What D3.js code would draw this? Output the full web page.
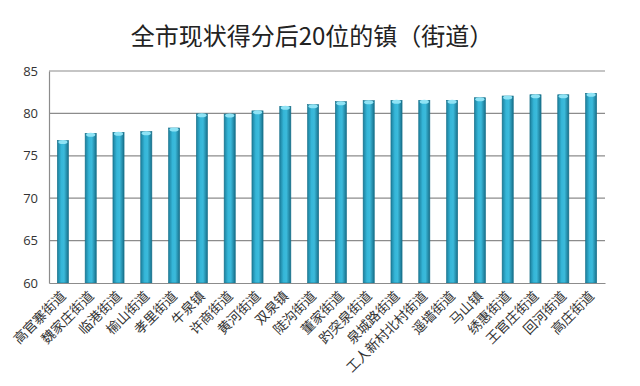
<!DOCTYPE html>
<html><head><meta charset="utf-8">
<script src="https://cdn.jsdelivr.net/npm/d3@7"></script>
<style>body{margin:0;background:#fff}svg{display:block}</style>
</head><body>
<svg id="c" width="640" height="386"></svg>
<script>
const title = "全市现状得分后20位的镇（街道）";
const categories = ["高官寨街道","魏家庄街道","临港街道","榆山街道","孝里街道","牛泉镇","许商街道","黄河街道","双泉镇","陡沟街道","董家街道","趵突泉街道","泉城路街道","工人新村北村街道","遥墙街道","马山镇","绣惠街道","王官庄街道","回河街道","高庄街道"];
const values = [76.8,77.65,77.77,77.85,78.28,79.95,79.93,80.3,80.83,81.03,81.38,81.5,81.54,81.54,81.54,81.85,82.05,82.2,82.2,82.37];
const yTicks = [60,65,70,75,80,85];

const svg = d3.select("#c");
const m = {l:49, r:35, t:71, b:103};
const W = 640, H = 386;
const x = d3.scaleBand().domain(categories).range([m.l, W-m.r]).paddingInner(0.6).paddingOuter(0.3);
const y = d3.scaleLinear().domain([60,85]).range([H-m.b, m.t]);

const defs = svg.append("defs");
const g = defs.append("linearGradient").attr("id","bar").attr("x1","0").attr("x2","1").attr("y1","0").attr("y2","0");
g.append("stop").attr("offset","0").attr("stop-color","#1c7f9c");
g.append("stop").attr("offset","0.35").attr("stop-color","#35b6d8");
g.append("stop").attr("offset","0.6").attr("stop-color","#3bbadb");
g.append("stop").attr("offset","1").attr("stop-color","#176f8a");

svg.append("text").attr("x",312).attr("y",45).attr("text-anchor","middle")
  .attr("font-family","'Noto Sans CJK SC'").attr("font-size",24).attr("fill","#222").text(title);

// grid
svg.append("g").selectAll("line").data(yTicks.filter(d=>d>60)).join("line")
  .attr("x1",m.l).attr("x2",W-m.r).attr("y1",d=>y(d)).attr("y2",d=>y(d))
  .attr("stroke","#8c8c8c").attr("stroke-width",1.2);

// bars
const bars = svg.append("g");
bars.selectAll("rect").data(values).join("rect")
  .attr("x",(d,i)=>x(categories[i])).attr("width",x.bandwidth())
  .attr("y",d=>y(d)).attr("height",d=>y(60)-y(d))
  .attr("fill","url(#bar)").attr("stroke","#16708a").attr("stroke-width",0.6);
bars.selectAll("ellipse").data(values).join("ellipse")
  .attr("cx",(d,i)=>x(categories[i])+x.bandwidth()/2).attr("cy",d=>y(d)+1.5)
  .attr("rx",x.bandwidth()/2-1).attr("ry",2)
  .attr("fill","#8fe3f5");

// axes
const ya = svg.append("g").attr("transform",`translate(${m.l},0)`)
  .call(d3.axisLeft(y).tickValues(yTicks).tickSize(0).tickPadding(11));
ya.select(".domain").attr("stroke","#8c8c8c").attr("stroke-width",1.2);
ya.selectAll("text").attr("font-family","'Open Sans'").attr("font-size",13).attr("fill","#333");

const xa = svg.append("g").attr("transform",`translate(0,${y(60)})`)
  .call(d3.axisBottom(x).tickSize(0).tickPadding(0));
xa.select(".domain").attr("stroke","#8c8c8c").attr("stroke-width",1.2);
xa.selectAll("text").attr("font-family","'Noto Sans CJK SC'").attr("font-size",13.5).attr("fill","#333")
  .attr("text-anchor","end").attr("dy",0)
  .attr("transform","translate(4,14) rotate(-45)");
</script>
</body></html>
